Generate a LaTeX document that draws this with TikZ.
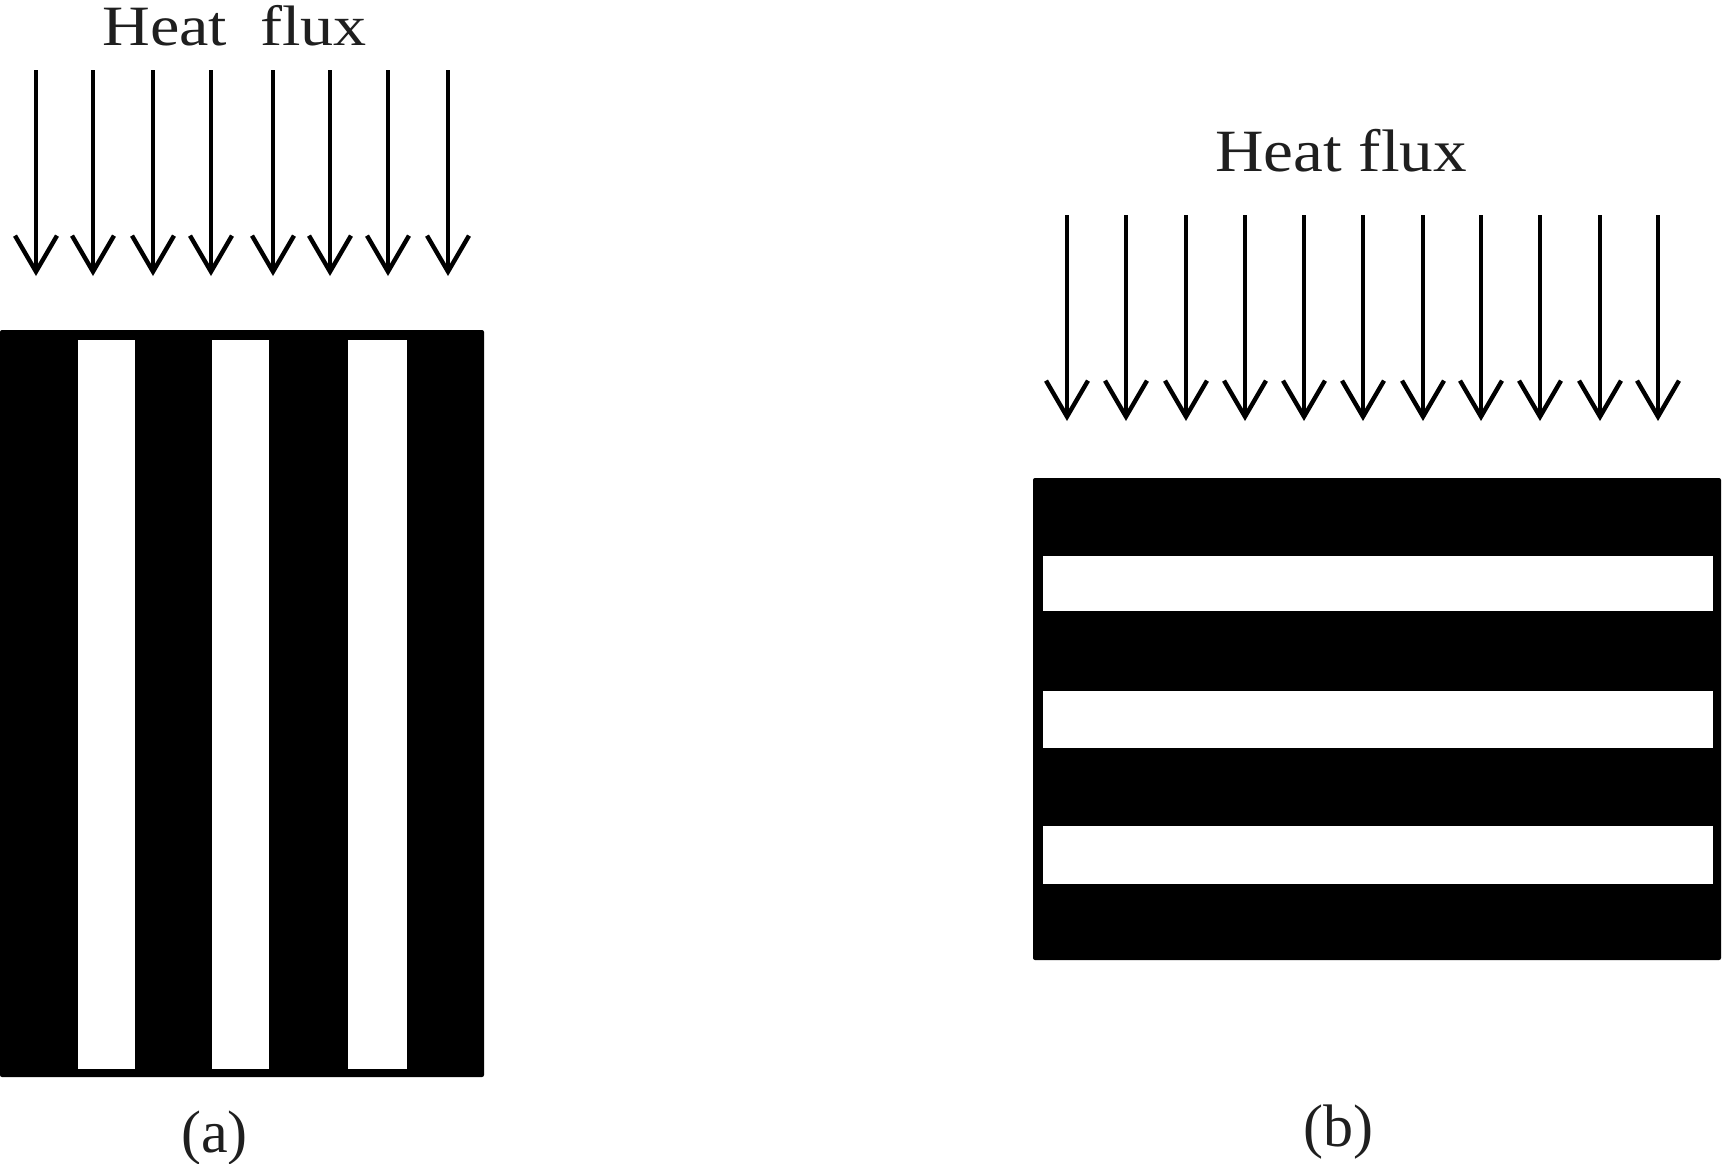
\documentclass[tikz,border=0pt]{standalone}
\usepackage{fontspec}
\setmainfont{Liberation Serif}
\usetikzlibrary{arrows.meta}
\begin{document}
\begin{tikzpicture}[x=1pt,y=-1pt,
  flux/.style={line width=3.4pt,-{Straight Barb[length=36pt,width=42pt,line width=4.4pt]}},
  lbl/.style={inner sep=0pt,anchor=base,text=black!88},
  block/.style={fill=black,rounded corners=2pt},
  gap/.style={fill=white}]
\useasboundingbox[fill=white] (0,0) rectangle (1724,1163);
% (a)
\node[lbl,font=\fontsize{57}{66}\selectfont,xscale=1.16] (ta) at (234.5,45) {Heat\ \ flux};
\foreach \x in {36,93,153,211,273,330,388,448}
  \draw[flux] (\x,70) -- (\x,276);
\path[block] (0,330) rectangle (484,1077);
\foreach \a/\b in {78/135,212/269,348/407}
  \path[gap] (\a,340) rectangle (\b,1069);
\node[lbl,font=\fontsize{60}{70}\selectfont] (la) at (214.5,1152) {(a)};
% (b)
\node[lbl,font=\fontsize{60}{70}\selectfont,xscale=1.12] (tb) at (1341,171) {Heat flux};
\foreach \x in {1067,1126,1186,1245,1304,1363,1423,1481,1540,1600,1658}
  \draw[flux] (\x,215) -- (\x,421);
\path[block] (1033,478) rectangle (1721,960);
\foreach \a/\b in {556/611,691/748,826/884}
  \path[gap] (1043,\a) rectangle (1713,\b);
\node[lbl,font=\fontsize{60}{70}\selectfont] (lb) at (1338,1146) {(b)};
\end{tikzpicture}
\end{document}
